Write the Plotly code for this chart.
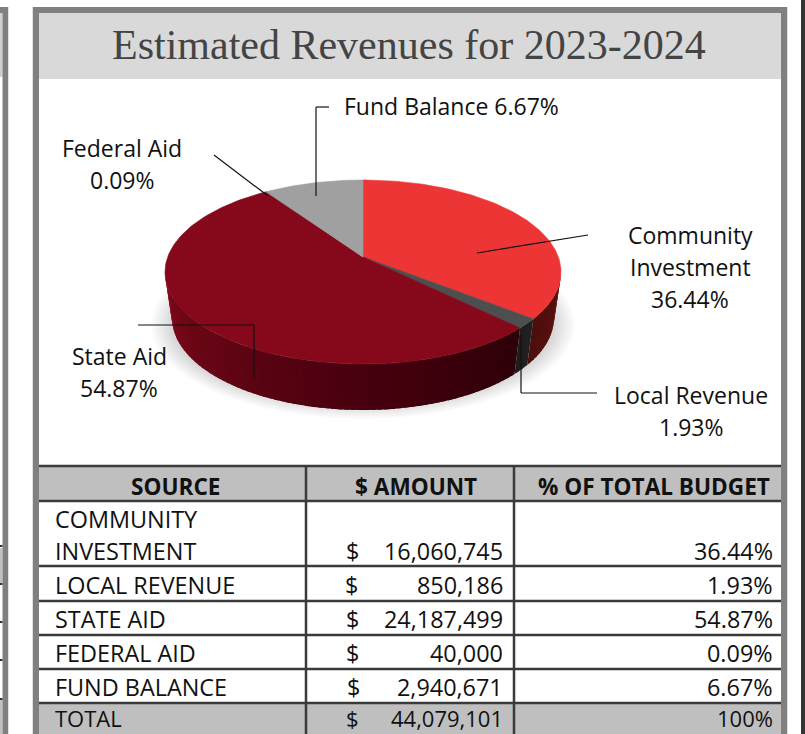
import numpy as np
import plotly.graph_objects as go

# ---------- data ----------
sources = ["Community Investment", "Local Revenue", "State Aid", "Federal Aid", "Fund Balance"]
table_sources = ["COMMUNITY<br>INVESTMENT", "LOCAL REVENUE", "STATE AID", "FEDERAL AID", "FUND BALANCE"]
amounts = [16060745, 850186, 24187499, 40000, 2940671]
total_amount = 44079101
percents = ["36.44%", "1.93%", "54.87%", "0.09%", "6.67%"]
total_percent = "100%"
headers = ["SOURCE", "$ AMOUNT", "% OF TOTAL BUDGET"]
title_text = "Estimated Revenues for 2023-2024"

# ---------- style ----------
FONT = "Open Sans"
TXT = "#111111"
top_colors = ["#ee3535", "#4d4f4f", "#85081b", "#8a8a8a", "#a0a0a0"]
W, H = 805, 734
CX, APEX_Y = 363, 257
TOP_CY, TOP_RX, RY = 272, 198, 92
BOT_CY, BOT_RX = 318, 191

fig = go.Figure()
shapes, annots = [], []


def rect(x0, y0, x1, y1, color):
    shapes.append(dict(type="rect", x0=x0, y0=y0, x1=x1, y1=y1, fillcolor=color,
                       line=dict(width=0), layer="below"))


def line(pts, width=1.2, color="#111111"):
    for (a, b), (c, d) in zip(pts[:-1], pts[1:]):
        shapes.append(dict(type="line", x0=a, y0=b, x1=c, y1=d,
                           line=dict(color=color, width=width), layer="above"))


def text(x, y, s, size=23, anchor="center", color=TXT, font=FONT, bold=False):
    dx = {"left": -2, "right": 2, "center": 0}[anchor]
    annots.append(dict(x=x + dx, y=y - 1.5, text=f"<b>{s}</b>" if bold else s, showarrow=False,
                       xanchor=anchor, yanchor="middle", align=anchor,
                       font=dict(family=font, size=size, color=color)))


def warp(theta_deg):
    # the 3-D view compresses the angles of the drawn pie
    th = np.asarray(theta_deg, dtype=float)
    return th - 11 * np.sqrt(np.abs(np.sin(np.radians(th) / 2)))


def top_pt(t):
    r = np.radians(t)
    return CX + TOP_RX * np.sin(r), TOP_CY - RY * np.cos(r)


def bot_pt(t):
    r = np.radians(t)
    return CX + BOT_RX * np.sin(r), BOT_CY - RY * np.cos(r)


def poly(xs, ys, color, lw=0.6):
    fig.add_trace(go.Scatter(x=list(xs), y=list(ys), mode="lines", fill="toself", fillcolor=color,
                             line=dict(color=color, width=lw), hoverinfo="skip", showlegend=False))


def mix(stops, f):
    pos = [s[0] for s in stops]
    ch = [np.interp(f, pos, [s[1][i] for s in stops]) for i in range(3)]
    return "rgb(%d,%d,%d)" % tuple(ch)


# ---------- page furniture ----------
rect(0, 0, W, H, "white")
rect(0, 13, 2.5, 77, "#d0d0d0")
rect(0, 548, 2.5, 583, "#c0c0c0")
rect(0, 700, 2.5, H, "#c0c0c0")
rect(2.5, 7, 8, H, "#808080")
rect(0, 7, 8, 13, "#808080")
rect(8, 7, 8.7, H, "#d4d4d4")
for y in [546, 584, 622, 660, 699]:
    rect(0, y - 1, 2.5, y + 1, "#333333")
rect(801, 0, W, H, "#333333")
rect(32.3, 7, 33, H, "#d4d4d4")
rect(33, 7, 787, H, "#808080")
rect(787, 7, 787.7, H, "#d4d4d4")
rect(39, 13, 781, H, "white")
rect(39, 13, 781, 79, "#d9d9d9")

# ---------- shadow ----------
for k in range(10):
    tt = np.linspace(0, 360, 120)
    g = 1 - k / 10
    sx = CX + (190 + 22 * g) * np.sin(np.radians(tt))
    sy = 325 - (80 + 14 * g) * np.cos(np.radians(tt))
    fig.add_trace(go.Scatter(x=sx, y=sy, mode="lines", fill="toself", fillcolor="rgba(0,0,0,0.017)",
                             line=dict(width=0), hoverinfo="skip", showlegend=False))

# ---------- pie geometry from the data ----------
fractions = np.array(amounts, dtype=float) / total_amount
ends = np.cumsum(fractions) * 360
starts = np.concatenate([[0], ends[:-1]])
ends[-1] = 360
t0 = [max(float(warp(a)), 0) for a in starts]
t1 = [float(warp(b)) if b < 360 else 360.0 for b in ends]

# side wall: overlapping strips so no seams show
wall_stops = {
    2: [(t1[1], (46, 0, 8)), (180, (72, 0, 14)), (225, (98, 5, 20)), (270, (128, 10, 28))],
    0: [(90, (92, 18, 16)), (t1[0], (78, 14, 14))],
    1: [(t1[0], (34, 34, 34)), (t1[1], (28, 28, 28))],
}
for i in (2, 0, 1):
    a = max(t0[i], 90)
    b = min(t1[i], 270)
    n = max(2, int((b - a) / 2) + 1)
    edges = np.linspace(a, b, n)
    order = list(zip(edges[:-1], edges[1:]))
    if i == 2:
        order = order[::-1]  # paint from the left so each strip overlaps the next
    for u, v in order:
        lo = max(a, u - 1.5) if i == 2 else u
        hi = v if i == 2 else min(b, v + 1.5)
        seg = np.linspace(lo, hi, 5)
        x1, y1 = top_pt(seg)
        x2, y2 = bot_pt(seg[::-1])
        poly(np.concatenate([x1, x2, x1[:1]]), np.concatenate([y1, y2, y1[:1]]),
             mix(wall_stops[i], (u + v) / 2), lw=0)

# top face
for i, c in enumerate(top_colors):
    seg = np.linspace(t0[i], max(t1[i], t0[i] + 0.3), max(4, int(t1[i] - t0[i]) + 2))
    x, y = top_pt(seg)
    poly(np.concatenate([[CX], x, [CX]]), np.concatenate([[APEX_Y], y, [APEX_Y]]), c)

# ---------- labels & leaders ----------
text(409, 46, title_text, size=42, color="#444444", font="Liberation Serif")

text(344, 107, f"{sources[4]} {percents[4]}", anchor="left")
line([(329, 107), (316, 107), (316, 196)])
text(122, 149, sources[3])
text(122, 181, percents[3])
line([(214, 155), (268, 196)])
text(690, 236, "Community")
text(690, 268, "Investment")
text(690, 300, percents[0])
line([(588, 235), (477, 253)])
text(119, 357, sources[2])
text(119, 389, percents[2])
line([(138, 325), (254, 325), (254, 378)])
text(691, 396, sources[1])
text(691, 428, percents[1])
line([(521, 335), (521, 393), (597, 393)])

# ---------- table ----------
col_x = [39, 306, 514, 781]
row_y = [466, 501, 566, 601, 635, 669, 703, H]
rect(col_x[0], row_y[0], col_x[3], row_y[1], "#bfbfbf")
rect(col_x[0], row_y[6], col_x[3], H, "#bfbfbf")
for y in row_y[:-1]:
    shapes.append(dict(type="line", x0=col_x[0], x1=col_x[3], y0=y, y1=y,
                       line=dict(color="#3a3a3a", width=2.5), layer="above"))
for x in col_x[1:3]:
    shapes.append(dict(type="line", x0=x, x1=x, y0=row_y[0], y1=H,
                       line=dict(color="#3a3a3a", width=2.5), layer="above"))

text(175.5, 487.5, headers[0], 22.6, bold=True)
text(415.5, 487.5, headers[1], 22.6, bold=True)
text(653.5, 487.5, headers[2], 22.6, bold=True)

row_text_y = [552, 586, 620, 654, 688]
dollar_x = [352, 351, 352, 352, 353]
for i, y in enumerate(row_text_y):
    if i == 0:
        a, b = table_sources[0].split("<br>")
        text(55, 520, a, 23.4, anchor="left")
        text(55, 552, b, 23.4, anchor="left")
    else:
        text(55, y, table_sources[i], 23.4, anchor="left")
    text(dollar_x[i], y, "$", 23.4)
    text(503, y, f"{amounts[i]:,}", 23.4, anchor="right")
    text(773, y, percents[i], 23.4, anchor="right")
text(55, 719, "TOTAL", 22, anchor="left")
text(352, 719, "$", 22)
text(503, 719, f"{total_amount:,}", 22, anchor="right")
text(773, 719, total_percent, 22, anchor="right")

fig.update_layout(
    width=W, height=H, autosize=False, margin=dict(l=0, r=0, t=0, b=0),
    paper_bgcolor="white", plot_bgcolor="white", showlegend=False,
    xaxis=dict(range=[0, W], visible=False, fixedrange=True),
    yaxis=dict(range=[H, 0], visible=False, fixedrange=True),
    shapes=shapes, annotations=annots,
)
fig.write_html("out.html", config={"displayModeBar": False},
               post_script="document.body.style.margin='0';document.body.style.overflow='hidden';")
